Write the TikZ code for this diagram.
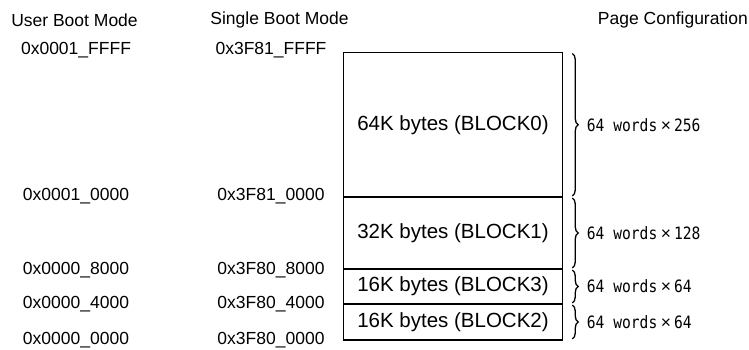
\documentclass[tikz,border=0pt]{standalone}
\usepackage{fontspec}
\setmainfont{Liberation Sans}
\newfontfamily\wordfont[FakeStretch=0.86]{DejaVu Sans Mono}
\newcommand{\pgtimes}{\kern3.5pt{\rmfamily\fontsize{17.5}{20}\selectfont×}\kern3pt}
\usetikzlibrary{positioning, decorations.pathreplacing}

\begin{document}
\begin{tikzpicture}[x=1pt, y=-1pt, font=\fontsize{17.5}{20}\selectfont,
    lbl/.style={inner sep=0pt},
    blk/.style={draw, line width=1.2pt, minimum width=218.5pt, outer sep=0pt, inner sep=0pt,
      font=\fontsize{20.5}{24}\selectfont},
    brc/.style={decorate, decoration={brace, amplitude=6pt}, line width=1.3pt},
    pg/.style={anchor=west, xshift=14pt, inner sep=0pt, font=\wordfont\fontsize{17}{20}\selectfont}]
    \useasboundingbox (0,0) rectangle (749,350);
    \node[lbl] (um) at (74.5,20) {User Boot Mode};
    \node[lbl] (sm) at (279.5,20) {Single Boot Mode};
    \node[lbl, anchor=east] (pc) at (748,20) {Page Configuration};
    \node[lbl] (u0) at (76,50)  {0x0001\_FFFF};
    \node[lbl] (u1) at (76,196) {0x0001\_0000};
    \node[lbl] (u2) at (76,270) {0x0000\_8000};
    \node[lbl] (u3) at (76,304) {0x0000\_4000};
    \node[lbl] (u4) at (76,340) {0x0000\_0000};
    \node[lbl] (s0) at (271,50)  {0x3F81\_FFFF};
    \node[lbl] (s1) at (271,196) {0x3F81\_0000};
    \node[lbl] (s2) at (271,270) {0x3F80\_8000};
    \node[lbl] (s3) at (271,304) {0x3F80\_4000};
    \node[lbl] (s4) at (271,340) {0x3F80\_0000};
    \node[blk, minimum height=144.5pt] (b0) at (453,124.75) {64K bytes (BLOCK0)};
    \node[blk, minimum height=72pt, below=0pt of b0] (b1) {32K bytes (BLOCK1)};
    \node[blk, minimum height=35pt, below=0pt of b1] (b3) {16K bytes (BLOCK3)};
    \node[blk, minimum height=36pt, below=0pt of b3] (b2) {16K bytes (BLOCK2)};
    \draw[brc] ([xshift=10pt, yshift=-1pt]b0.north east) -- ([xshift=10pt, yshift=1pt]b0.south east)
      node[pg, midway] (p0) {64 words\pgtimes 256};
    \draw[brc] ([xshift=10pt, yshift=-1pt]b1.north east) -- ([xshift=10pt, yshift=1pt]b1.south east)
      node[pg, midway] (p1) {64 words\pgtimes 128};
    \draw[brc] ([xshift=10pt, yshift=-1pt]b3.north east) -- ([xshift=10pt, yshift=1pt]b3.south east)
      node[pg, midway] (p3) {64 words\pgtimes 64};
    \draw[brc] ([xshift=10pt, yshift=-1pt]b2.north east) -- ([xshift=10pt, yshift=1pt]b2.south east)
      node[pg, midway] (p2) {64 words\pgtimes 64};
  \end{tikzpicture}
\end{document}
